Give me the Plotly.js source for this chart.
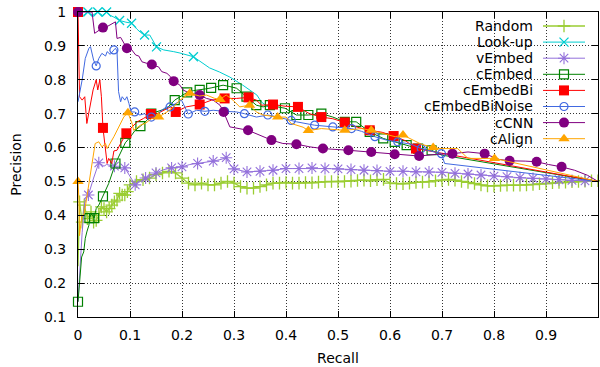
<!DOCTYPE html>
<html><head><meta charset="utf-8">
<script src="https://cdn.plot.ly/plotly-3.0.1.min.js"></script>
<style>html,body{margin:0;padding:0;background:#fff}#chart{width:600px;height:367px}</style>
</head><body><div id="chart"></div>
<script>
// ---------- data ----------
const seriesNames = ["Random","Look-up","vEmbed","cEmbed","cEmbedBi","cEmbedBiNoise","cCNN","cAlign"];
const xTickVals = [0,0.1,0.2,0.3,0.4,0.5,0.6,0.7,0.8,0.9];
const xTickText = ["0","0.1","0.2","0.3","0.4","0.5","0.6","0.7","0.8","0.9"];
const yTickVals = [0.1,0.2,0.3,0.4,0.5,0.6,0.7,0.8,0.9,1];
const yTickText = ["0.1","0.2","0.3","0.4","0.5","0.6","0.7","0.8","0.9","1"];

const randomRecall = [0,0.003,0.008,0.012,0.018,0.025,0.03,0.035,0.04,0.045,0.05,0.055,0.06,0.065,0.07,0.075,0.08,0.085,0.09,0.095,0.1,
 0.1125,0.125,0.1375,0.15,0.1625,0.175,0.1875,0.2,0.2125,0.225,0.2375,0.25,0.2625,0.275,0.2875,0.3,0.3125,0.325,0.3375,0.35,0.3625,0.375,0.3875,0.4,
 0.4125,0.425,0.4375,0.45,0.4625,0.475,0.4875,0.5,0.5125,0.525,0.5375,0.55,0.5625,0.575,0.5875,0.6,0.6125,0.625,0.6375,0.65,0.6625,0.675,0.6875,0.7,
 0.7125,0.725,0.7375,0.75,0.7625,0.775,0.7875,0.8,0.8125,0.825,0.8375,0.85,0.8625,0.875,0.8875,0.9,0.9125,0.925,0.9375,0.95,0.9625,0.975,0.9875,1.0];
const randomPrecision = [0.25,0.44,0.38,0.43,0.39,0.41,0.38,0.385,0.40,0.425,0.42,0.41,0.42,0.43,0.44,0.445,0.465,0.46,0.46,0.47,0.49,
 0.50,0.505,0.51,0.52,0.525,0.53,0.525,0.51,0.495,0.49,0.495,0.49,0.49,0.495,0.50,0.495,0.485,0.48,0.48,0.485,0.49,0.495,0.495,0.497,
 0.495,0.495,0.497,0.496,0.498,0.499,0.50,0.499,0.50,0.501,0.503,0.504,0.502,0.505,0.506,0.495,0.494,0.493,0.495,0.497,0.498,0.499,0.502,0.504,
 0.506,0.504,0.50,0.497,0.494,0.49,0.487,0.487,0.488,0.489,0.489,0.489,0.49,0.491,0.493,0.494,0.496,0.497,0.498,0.499,0.50,0.501,0.502,0.502];
const randomMarkRecall = randomRecall.slice(1);

const lookupRecall = [0,0.01,0.019,0.028,0.038,0.047,0.055,0.062,0.069,0.08,0.092,0.103,0.113,0.12,0.128,0.138,0.151,0.165,0.184,0.196,0.222,0.253,0.272,0.292,0.317,0.344,0.353,0.369];
const lookupPrecision = [1.0,0.99,1.0,0.99,1.0,0.99,1.0,0.99,0.985,0.975,0.97,0.967,0.95,0.94,0.932,0.932,0.897,0.888,0.883,0.879,0.868,0.835,0.823,0.808,0.784,0.755,0.734,0.716];
const lookupMarkRecall = [0.019,0.038,0.055,0.08,0.103,0.128,0.151,0.222];

const vembedRecall = [0,0.004,0.008,0.013,0.02,0.03,0.04,0.05,0.055,0.07,0.085,0.09,0.1,0.11,0.12,0.13,0.15,0.165,0.18,0.2,0.215,0.23,0.245,0.26,0.275,0.285,0.29,0.3,0.325,0.35,
 0.375,0.4,0.425,0.45,0.475,0.5,0.525,0.55,0.575,0.6,0.625,0.65,0.675,0.7,0.725,0.75,0.775,0.8,0.825,0.85,0.875,0.9,0.925,0.95,0.975,1.0];
const vembedPrecision = [0.145,0.26,0.35,0.44,0.46,0.51,0.555,0.545,0.55,0.545,0.535,0.54,0.515,0.49,0.50,0.51,0.525,0.535,0.54,0.543,0.55,0.553,0.558,0.56,0.565,0.57,0.555,0.537,0.528,0.53,
 0.533,0.538,0.538,0.54,0.538,0.537,0.535,0.533,0.532,0.53,0.53,0.528,0.528,0.527,0.524,0.522,0.519,0.516,0.514,0.511,0.509,0.507,0.505,0.503,0.502,0.50];
const vembedMarkRecall = [0.02,0.04,0.07,0.09,0.11,0.13,0.15,0.18,0.2,0.23,0.26,0.285,0.3,0.325,0.35,0.375,0.4,0.425,0.45,0.475,0.5,0.525,0.55,0.575,0.6,0.625,0.65,0.675,0.7,0.725,0.75,0.775,0.8,0.825,0.85,0.875,0.9,0.925,0.95,0.975];

const cembedRecall = [0,0.005,0.007,0.011,0.014,0.017,0.021,0.022,0.026,0.031,0.035,0.04,0.048,0.059,0.072,0.082,0.091,0.101,0.11,0.12,0.133,0.141,0.159,0.171,0.186,0.198,0.21,0.222,0.234,0.245,
 0.256,0.267,0.279,0.292,0.305,0.324,0.343,0.356,0.369,0.384,0.398,0.42,0.443,0.468,0.49,0.513,0.535,0.561,0.587,0.609,0.632,0.654,0.68,0.699,1.0];
const cembedPrecision = [0.145,0.233,0.277,0.292,0.332,0.351,0.371,0.392,0.405,0.392,0.42,0.43,0.456,0.494,0.553,0.583,0.614,0.632,0.651,0.663,0.681,0.70,0.71,0.716,0.74,0.752,0.763,0.768,0.77,0.773,
 0.776,0.78,0.784,0.78,0.775,0.75,0.725,0.72,0.725,0.72,0.716,0.696,0.696,0.70,0.69,0.676,0.676,0.646,0.627,0.617,0.607,0.597,0.592,0.578,0.50];
const cembedMarkRecall = [0,0.022,0.031,0.048,0.072,0.091,0.12,0.141,0.186,0.21,0.234,0.256,0.279,0.305,0.324,0.343,0.369,0.398,0.42,0.443,0.468,0.513,0.535,0.561,0.587,0.609,0.632,0.654,0.68];

const cembedbiRecall = [0,0.003,0.008,0.013,0.017,0.023,0.029,0.035,0.038,0.042,0.045,0.048,0.053,0.056,0.059,0.065,0.069,0.075,0.082,0.093,0.104,0.114,0.126,0.14,0.152,
 0.165,0.178,0.188,0.208,0.234,0.257,0.282,0.305,0.328,0.343,0.353,0.375,0.398,0.423,0.445,0.468,0.49,0.513,0.537,0.561,0.585,0.607,0.63,0.65,1.0];
const cembedbiPrecision = [1.0,0.75,0.74,0.75,0.671,0.72,0.77,0.80,0.77,0.80,0.75,0.658,0.583,0.553,0.568,0.553,0.59,0.592,0.612,0.642,0.661,0.676,0.686,0.699,0.70,
 0.71,0.72,0.705,0.72,0.727,0.74,0.745,0.745,0.748,0.74,0.725,0.727,0.722,0.72,0.70,0.69,0.685,0.674,0.66,0.651,0.645,0.634,0.62,0.597,0.50];
const cembedbiMarkRecall = [0,0.048,0.093,0.14,0.188,0.234,0.282,0.328,0.375,0.423,0.468,0.513,0.561,0.607,0.65];

const noiseRecall = [0,0.008,0.014,0.021,0.024,0.027,0.030,0.035,0.040,0.046,0.053,0.056,0.062,0.069,0.072,0.075,0.078,0.082,0.085,0.09,0.094,0.098,0.102,0.109,0.119,
 0.128,0.134,0.141,0.15,0.157,0.170,0.177,0.189,0.199,0.212,0.228,0.244,0.26,0.282,0.305,0.32,0.343,0.365,0.385,0.41,0.42,0.455,0.49,0.526,0.545,0.571,0.593,0.615,0.64,0.66,0.68,0.699,0.705,1.0];
const noisePrecision = [0.735,0.80,0.863,0.893,0.898,0.873,0.858,0.841,0.863,0.878,0.87,0.883,0.875,0.888,0.893,0.885,0.765,0.735,0.75,0.74,0.75,0.73,0.705,0.705,0.696,
 0.70,0.69,0.69,0.69,0.705,0.72,0.72,0.73,0.74,0.699,0.71,0.707,0.71,0.707,0.705,0.70,0.69,0.696,0.69,0.68,0.676,0.666,0.661,0.656,0.648,0.632,0.622,0.617,0.61,0.597,0.59,0.582,0.553,0.50];
const noiseMarkRecall = [0.035,0.069,0.109,0.141,0.177,0.212,0.244,0.282,0.32,0.365,0.41,0.455,0.49,0.526,0.571,0.615,0.66,0.699];

const ccnnRecall = [0,0.027,0.032,0.048,0.056,0.062,0.072,0.075,0.082,0.094,0.101,0.111,0.117,0.123,0.142,0.155,0.161,0.171,0.178,0.184,0.19,0.196,0.202,0.215,0.234,
 0.247,0.26,0.273,0.28,0.292,0.327,0.35,0.372,0.394,0.42,0.446,0.471,0.52,0.564,0.609,0.656,0.69,0.72,0.75,0.782,0.81,0.83,0.86,0.882,0.905,0.93,0.955,0.98,1.0];
const ccnnPrecision = [1.0,1.0,0.937,0.954,0.957,0.962,0.971,0.922,0.925,0.893,0.893,0.873,0.87,0.853,0.845,0.838,0.824,0.819,0.809,0.796,0.79,0.784,0.77,0.76,0.755,
 0.745,0.74,0.725,0.705,0.661,0.651,0.637,0.622,0.612,0.61,0.602,0.597,0.592,0.587,0.58,0.575,0.58,0.582,0.587,0.582,0.565,0.561,0.56,0.558,0.55,0.543,0.533,0.518,0.50];
const ccnnMarkRecall = [0,0.048,0.094,0.142,0.184,0.234,0.28,0.327,0.372,0.42,0.471,0.52,0.564,0.609,0.656,0.72,0.782,0.83,0.882,0.93];

const calignRecall = [0,0.002,0.003,0.007,0.012,0.016,0.027,0.033,0.040,0.046,0.053,0.056,0.069,0.078,0.088,0.096,0.104,0.107,0.12,0.13,0.142,0.155,0.171,0.184,0.196,
 0.215,0.234,0.247,0.263,0.273,0.285,0.298,0.311,0.33,0.343,0.356,0.384,0.40,0.41,0.433,0.443,0.468,0.513,0.545,0.564,0.59,0.61,0.625,0.66,0.683,0.696,0.73,0.75,0.801,1.0];
const calignPrecision = [0.50,0.44,0.34,0.395,0.405,0.445,0.543,0.612,0.617,0.602,0.612,0.597,0.632,0.661,0.69,0.703,0.671,0.651,0.666,0.672,0.686,0.69,0.705,0.72,0.74,
 0.76,0.752,0.755,0.745,0.742,0.755,0.74,0.72,0.725,0.705,0.696,0.69,0.69,0.671,0.66,0.65,0.656,0.651,0.656,0.651,0.64,0.632,0.637,0.61,0.60,0.597,0.597,0.568,0.568,0.50];
const calignMarkRecall = [0,0.096,0.155,0.215,0.273,0.33,0.384,0.443,0.513,0.564,0.625,0.683,0.801];

// ---------- styles ----------
const FONT = 'DejaVu Sans, Liberation Sans, sans-serif';
const FS = 14;
const series = [
  {r:randomRecall, p:randomPrecision, m:randomMarkRecall, color:'#9acd32', symbol:'cross-thin-open', size:9, lw:1.3, mlw:1.3},
  {r:lookupRecall, p:lookupPrecision, m:lookupMarkRecall, color:'#00ced1', symbol:'x-thin-open', size:9, lw:1, mlw:1.3},
  {r:vembedRecall, p:vembedPrecision, m:vembedMarkRecall, color:'#9370db', symbol:'asterisk-open', size:10, lw:1, mlw:1.1},
  {r:cembedRecall, p:cembedPrecision, m:cembedMarkRecall, color:'#008000', symbol:'square-open', size:9, lw:1, mlw:1.2},
  {r:cembedbiRecall, p:cembedbiPrecision, m:cembedbiMarkRecall, color:'#ff0000', symbol:'square', size:10, lw:1, mlw:0},
  {r:noiseRecall, p:noisePrecision, m:noiseMarkRecall, color:'#4169e1', symbol:'circle-open', size:8, lw:1, mlw:1.2},
  {r:ccnnRecall, p:ccnnPrecision, m:ccnnMarkRecall, color:'#800080', symbol:'circle', size:10, lw:1, mlw:0},
  {r:calignRecall, p:calignPrecision, m:calignMarkRecall, color:'#ffa500', symbol:'triangle-up', size:10, lw:1, mlw:0}
];

const traces = [];
series.forEach((s, i) => {
  traces.push({x:s.r, y:s.p, mode:'lines', type:'scatter', name:seriesNames[i],
    line:{color:s.color, width:s.lw}, hoverinfo:'skip'});
  const mx = [], my = [];
  s.m.forEach(v => { const k = s.r.indexOf(v); if (k >= 0) { mx.push(s.r[k]); my.push(s.p[k]); } });
  traces.push({x:mx, y:my, mode:'markers', type:'scatter', name:seriesNames[i], cliponaxis:false,
    marker:{symbol:s.symbol, size:s.size, color:s.color, line:{color:s.color, width:s.mlw}}, hoverinfo:'skip'});
});

// ---------- custom legend (text left, sample right, like the original) ----------
const ML = 78, MT = 12, PW = 520, PH = 305;
const legTextRight = 535, legLineX0 = 543, legLineX1 = 585, legMarkX = 564;
const legRow0 = 26, legStep = 16.1;
const px2x = px => (px - ML) / PW;
const py2y = py => 1 - (py - MT) / PH;
const annotations = [];
series.forEach((s, i) => {
  const yy = py2y(legRow0 + i * legStep);
  annotations.push({xref:'paper', yref:'paper', x:px2x(legTextRight), y:yy, xanchor:'right', yanchor:'middle',
    text:seriesNames[i], showarrow:false, font:{family:FONT, size:FS, color:'#000'}});
  traces.push({x:[px2x(legLineX0), px2x(legLineX1)], y:[yy, yy], xaxis:'x2', yaxis:'y2', mode:'lines',
    line:{color:s.color, width:s.lw}, hoverinfo:'skip', showlegend:false});
  traces.push({x:[px2x(legMarkX)], y:[yy], xaxis:'x2', yaxis:'y2', mode:'markers', cliponaxis:false,
    marker:{symbol:s.symbol, size:s.size, color:s.color, line:{color:s.color, width:s.mlw}}, hoverinfo:'skip', showlegend:false});
});

const axisCommon = {
  ticks:'inside', ticklen:6, tickwidth:1, tickcolor:'#000',
  showline:true, linecolor:'#000', linewidth:1, mirror:'allticks',
  showgrid:true, gridcolor:'#333', gridwidth:1, griddash:'1px,2px',
  zeroline:false, tickfont:{family:FONT, size:FS, color:'#000'}
};
const layout = {
  width:600, height:367,
  margin:{l:ML, r:600-ML-PW, t:MT, b:367-MT-PH},
  paper_bgcolor:'#fff', plot_bgcolor:'#fff',
  showlegend:false,
  font:{family:FONT, size:FS, color:'#000'},
  xaxis:Object.assign({}, axisCommon, {range:[0,1], tickmode:'array', tickvals:xTickVals, ticktext:xTickText,
    ticklabelstandoff:5, title:{text:'Recall', font:{family:FONT, size:FS, color:'#000'}, standoff:11}}),
  yaxis:Object.assign({}, axisCommon, {range:[0.1,1], tickmode:'array', tickvals:yTickVals, ticktext:yTickText,
    ticklabelstandoff:8, title:{text:'Precision', font:{family:FONT, size:FS, color:'#000'}, standoff:19}}),
  xaxis2:{overlaying:'x', range:[0,1], visible:false, fixedrange:true},
  yaxis2:{overlaying:'y', range:[0,1], visible:false, fixedrange:true},
  annotations:annotations
};
Plotly.newPlot('chart', traces, layout, {staticPlot:true, displayModeBar:false});
</script>
</body></html>
